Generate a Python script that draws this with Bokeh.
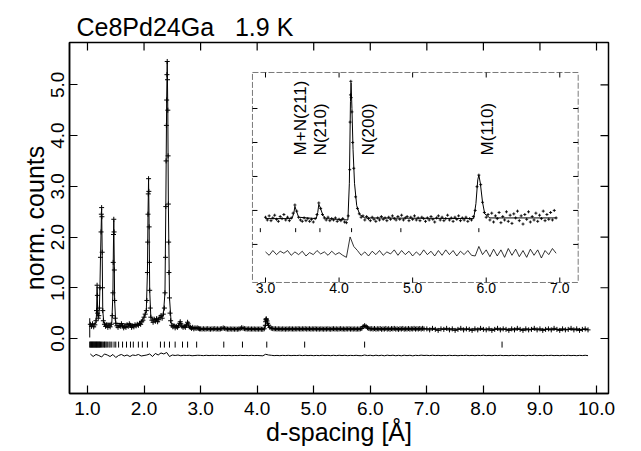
import numpy as np
from bokeh.plotting import figure
from bokeh.models import Range1d, FixedTicker, PrintfTickFormatter
from bokeh.core.properties import value
from bokeh.embed import file_html
from bokeh.resources import INLINE

FONT = "Liberation Sans"

# ---------------- data ----------------
TITLE = "Ce8Pd24Ga\u00a0\u00a0\u00a01.9 K"
X_LABEL = "d-spacing [Å]"
Y_LABEL = "norm. counts"
X_TICKS = [1, 2, 3, 4, 5, 6, 7, 8, 9, 10]
Y_TICKS = [0, 1, 2, 3, 4, 5]
INSET_X_TICKS = [3, 4, 5, 6, 7]
INSET_X_TICK_LABELS = ["3.0", "4.0", "5.0", "6.0", "7.0"]
INSET_Y_TICKS = [0.15, 0.20, 0.25, 0.30, 0.35]

# observed points, low-d region (explicit positions)
obs_low_d = [1.05, 1.07, 1.09, 1.11, 1.13, 1.15, 1.16, 1.17, 1.175, 1.18, 1.19, 1.20, 1.21, 1.22, 1.23,
             1.24, 1.245, 1.25, 1.255, 1.26, 1.265, 1.27, 1.28, 1.30, 1.32, 1.34, 1.36, 1.38, 1.40, 1.42,
             1.44, 1.45, 1.455, 1.46, 1.465, 1.47, 1.475, 1.48, 1.49, 1.50, 1.52, 1.54, 1.56, 1.58, 1.60,
             1.62, 1.64, 1.66, 1.68, 1.70, 1.72, 1.74, 1.76, 1.78, 1.80, 1.82, 1.84, 1.86, 1.88, 1.90,
             1.92, 1.94, 1.96, 1.98, 2.00, 2.02, 2.04, 2.05, 2.06, 2.065, 2.07, 2.075, 2.08, 2.085, 2.09,
             2.095, 2.10, 2.11, 2.12, 2.14, 2.16, 2.18, 2.20, 2.22, 2.24, 2.26, 2.28, 2.30, 2.32, 2.34,
             2.36, 2.37, 2.38, 2.385, 2.39, 2.395, 2.40, 2.405, 2.41, 2.415, 2.42, 2.425, 2.43, 2.435, 2.44,
             2.45, 2.46, 2.47, 2.49, 2.51, 2.53, 2.55, 2.57, 2.59, 2.61, 2.63, 2.64, 2.65, 2.67, 2.69,
             2.71, 2.73, 2.75, 2.77, 2.78, 2.80, 2.82, 2.84, 2.86, 2.88, 2.90, 2.92, 2.94, 2.96, 2.98]
obs_low_y = [0.28, 0.24, 0.29, 0.23, 0.27, 0.35, 0.55, 1.05, 0.85, 0.50, 0.40, 0.45, 0.60, 1.00, 1.60,
             2.10, 2.45, 2.58, 2.40, 1.70, 1.00, 0.55, 0.35, 0.28, 0.24, 0.27, 0.22, 0.26, 0.23, 0.28,
             0.45, 0.90, 1.50, 2.05, 2.35, 2.10, 1.35, 0.75, 0.40, 0.30, 0.25, 0.22, 0.26, 0.24, 0.29,
             0.25, 0.21, 0.24, 0.22, 0.27, 0.24, 0.29, 0.26, 0.22, 0.25, 0.23, 0.27, 0.25, 0.28, 0.26,
             0.30, 0.28, 0.33, 0.36, 0.42, 0.48, 0.55, 0.75, 1.30, 1.90, 2.45, 2.85, 3.15, 2.90, 2.20,
             1.50, 0.95, 0.60, 0.42, 0.36, 0.32, 0.38, 0.34, 0.39, 0.33, 0.37, 0.42, 0.45, 0.40, 0.48,
             0.60, 0.90, 1.60, 2.60, 3.50, 4.20, 4.70, 5.20, 5.46, 5.10, 4.50, 3.60, 2.65, 1.90, 1.30,
             0.80, 0.50, 0.35, 0.26, 0.23, 0.25, 0.21, 0.24, 0.22, 0.25, 0.30, 0.33, 0.29, 0.24, 0.22,
             0.24, 0.22, 0.26, 0.32, 0.29, 0.23, 0.22, 0.20, 0.22, 0.19, 0.21, 0.20, 0.21, 0.20, 0.19]

# observed points, 3.0 - 6.95 A (sampled every 0.025 A, shown in the inset)
obs_mid_start = 3.0
obs_mid_step = 0.025
obs_mid_y = [0.190, 0.186, 0.192, 0.185, 0.189, 0.193, 0.187, 0.184, 0.191, 0.188,
             0.194, 0.186, 0.190, 0.185, 0.189, 0.196, 0.208, 0.199, 0.190, 0.186,
             0.184, 0.189, 0.185, 0.188, 0.184, 0.187, 0.183, 0.188, 0.194, 0.211,
             0.203, 0.194, 0.189, 0.186, 0.190, 0.185, 0.188, 0.186, 0.189, 0.184,
             0.187, 0.185, 0.188, 0.183, 0.182, 0.192, 0.330, 0.345, 0.262, 0.220,
             0.203, 0.195, 0.190, 0.192, 0.186, 0.191, 0.188, 0.185, 0.190, 0.187,
             0.184, 0.189, 0.186, 0.191, 0.187, 0.189, 0.185, 0.190, 0.187, 0.192,
             0.188, 0.186, 0.191, 0.187, 0.193, 0.186, 0.189, 0.191, 0.185, 0.190,
             0.187, 0.192, 0.186, 0.189, 0.185, 0.190, 0.188, 0.184, 0.189, 0.186,
             0.191, 0.187, 0.183, 0.189, 0.192, 0.186, 0.190, 0.185, 0.188, 0.193,
             0.186, 0.189, 0.184, 0.190, 0.187, 0.192, 0.185, 0.189, 0.186, 0.190,
             0.184, 0.188, 0.186, 0.191, 0.200, 0.235, 0.252, 0.238, 0.212, 0.197,
             0.190, 0.194, 0.186, 0.196, 0.183, 0.192, 0.188, 0.197, 0.182, 0.191,
             0.186, 0.198, 0.184, 0.193, 0.181, 0.195, 0.189, 0.199, 0.185, 0.192,
             0.180, 0.194, 0.187, 0.198, 0.183, 0.191, 0.186, 0.196, 0.184, 0.193,
             0.188, 0.199, 0.185, 0.194, 0.187, 0.197, 0.186, 0.200, 0.189]
# extra observed points on the sharp 4.16 A peak
obs_peak_d = [4.145, 4.155, 4.160, 4.165, 4.185]
obs_peak_y = [0.260, 0.370, 0.390, 0.366, 0.300]

# observed points, 7.0 - 9.85 A (every 0.05 A)
obs_high_start = 7.0
obs_high_step = 0.05
obs_high_y = [0.19, 0.17, 0.20, 0.18, 0.16, 0.19, 0.18, 0.20, 0.17, 0.19,
              0.16, 0.18, 0.20, 0.17, 0.19, 0.18, 0.16, 0.19, 0.17, 0.20,
              0.18, 0.17, 0.19, 0.16, 0.18, 0.20, 0.17, 0.19, 0.18, 0.16,
              0.19, 0.17, 0.20, 0.18, 0.16, 0.19, 0.17, 0.18, 0.20, 0.17,
              0.19, 0.16, 0.18, 0.19, 0.17, 0.20, 0.18, 0.16, 0.19, 0.17,
              0.18, 0.20, 0.17, 0.19, 0.16, 0.18, 0.19, 0.17]

# calculated profile
calc_d = [1.05, 1.15, 1.16, 1.17, 1.18, 1.19, 1.20, 1.21, 1.22, 1.23, 1.24, 1.25, 1.26, 1.27, 1.29,
          1.43, 1.45, 1.455, 1.465, 1.475, 1.48, 1.50, 1.90, 2.00, 2.04, 2.06, 2.07, 2.08, 2.09, 2.10,
          2.12, 2.20, 2.34, 2.37, 2.385, 2.40, 2.41, 2.42, 2.43, 2.45, 2.48, 2.60, 2.64, 2.68, 2.77,
          2.80, 3.00, 3.36, 3.385, 3.40, 3.415, 3.45, 3.69, 3.71, 3.725, 3.745, 3.78, 3.82, 4.12, 4.14,
          4.155, 4.163, 4.175, 4.19, 4.21, 4.24, 4.28, 4.35, 5.83, 5.86, 5.885, 5.90, 5.92, 5.95, 5.98,
          6.05, 6.95, 7.50, 9.85]
calc_y = [0.26, 0.30, 0.50, 1.02, 0.55, 0.42, 0.45, 0.60, 1.00, 1.60, 2.10, 2.56, 1.70, 0.55, 0.30,
          0.30, 0.90, 1.50, 2.33, 1.35, 0.75, 0.30, 0.27, 0.42, 0.55, 1.30, 2.45, 3.15, 2.20, 0.95,
          0.42, 0.36, 0.45, 0.90, 2.60, 4.70, 5.46, 4.50, 2.65, 0.80, 0.30, 0.24, 0.31, 0.23, 0.30,
          0.22, 0.188, 0.188, 0.196, 0.206, 0.201, 0.190, 0.188, 0.197, 0.209, 0.204, 0.193, 0.188, 0.186, 0.240,
          0.360, 0.388, 0.350, 0.290, 0.240, 0.207, 0.194, 0.189, 0.188, 0.210, 0.245, 0.252, 0.240, 0.212, 0.195,
          0.189, 0.189, 0.185, 0.178]

# difference (obs - calc), every 0.05 A from 1.05 A
diff_start = 1.05
diff_step = 0.05
diff_y = [0.03, -0.02, 0.02, 0.0, -0.03, 0.03, 0.01, -0.02, 0.02, -0.04,
          0.0, 0.02, -0.01, 0.01, -0.02, 0.01, 0.0, 0.02, -0.01, 0.0,
          0.01, 0.03, -0.02, 0.04, 0.01, 0.05, 0.03, 0.06, -0.02, 0.01,
          0.0, 0.01, -0.005, 0.005, 0.0, 0.005, -0.005, 0.0, 0.005,
          0.002, -0.003, 0.004, -0.002, 0.003, 0.0, 0.004, -0.003, 0.002, -0.002,
          0.003, -0.004, 0.001, -0.002, 0.004, -0.001, 0.002, -0.003, 0.003, -0.002,
          0.001, -0.003, -0.006, 0.024, 0.010, 0.004, -0.003, 0.002, -0.004, 0.003,
          -0.002, 0.004, -0.003, 0.002, -0.001, 0.005, -0.003, 0.004, -0.002, 0.003,
          -0.004, 0.002, -0.003, 0.005, -0.002, 0.003, -0.004, 0.004, -0.003, 0.005,
          -0.002, 0.004, -0.004, 0.003, -0.002, 0.004, -0.003, -0.004, 0.010, -0.002,
          0.005, -0.005, 0.006, -0.004, 0.005, -0.006, 0.007, -0.003, 0.006, -0.005,
          0.004, -0.006, 0.006, -0.003, 0.005, -0.007, 0.004, -0.002, 0.007, 0.0,
          0.004, -0.003, 0.005, -0.002, 0.003, -0.004, 0.002, -0.003, 0.004, -0.002,
          0.003, -0.005, 0.002, -0.001, 0.004, -0.003, 0.002, -0.004, 0.003, -0.002,
          0.005, -0.003, 0.002, -0.004, 0.003, -0.002, 0.004, -0.003, 0.001, -0.004,
          0.003, -0.002, 0.004, -0.003, 0.002, -0.005, 0.003, -0.002, 0.004, -0.003,
          0.002, -0.004, 0.003, -0.001, 0.004, -0.003, 0.002, -0.004, 0.003, -0.002,
          0.004, -0.003, 0.002, -0.004, 0.003, -0.002, 0.004, -0.003]

# Bragg reflection positions
refl_d = [1.04, 1.05, 1.06, 1.07, 1.08, 1.09, 1.10, 1.11, 1.12, 1.13, 1.14, 1.15, 1.16, 1.17, 1.18,
          1.19, 1.20, 1.21, 1.22, 1.23, 1.25, 1.26, 1.28, 1.30, 1.31, 1.33, 1.35, 1.38, 1.40, 1.43,
          1.47, 1.50, 1.55, 1.62, 1.69, 1.76, 1.81, 1.90, 1.97, 2.06, 2.29, 2.36, 2.45, 2.55, 2.68,
          2.77, 2.93, 3.41, 3.74, 4.17, 4.84, 5.90, 8.33]

# first-point error bar
err_d = [1.04]
err_lo = [0.02]
err_hi = [0.40]

# inset peak annotations
peak_labels = ["M+N(211)", "N(210)", "N(200)", "M(110)"]
peak_label_d = [3.475, 3.747, 4.40, 6.016]

# ---------------- layout constants ----------------
W, H = 641, 451
B_LEFT, B_RIGHT, B_TOP, B_BOTTOM = 69, 33, 42, 58
MAIN_X = (0.682, 10.212)
MAIN_Y = (-1.084, 5.834)
INSET_BOX = (3.917, 9.676, 1.104, 5.243)        # inset frame in main data units (l, r, b, t)
INSET_X = (2.823, 7.25)
INSET_Y = (0.094, 0.403)
MAIN_DIFF_OFFSET = -0.335
INSET_DIFF_OFFSET = 0.137
MAIN_REFL_Y = -0.12
INSET_REFL_Y = 0.171
LABEL_Y = 0.281

# ---------------- assemble observed data ----------------
obs_mid_d = np.round(obs_mid_start + obs_mid_step * np.arange(len(obs_mid_y)), 4)
obs_high_d = np.round(obs_high_start + obs_high_step * np.arange(len(obs_high_y)), 4)
diff_d = np.round(diff_start + diff_step * np.arange(len(diff_y)), 4)

obs_d_all = np.concatenate([obs_low_d, obs_mid_d, obs_peak_d, obs_high_d])
obs_y_all = np.concatenate([obs_low_y, obs_mid_y, obs_peak_y, obs_high_y])
diff_y = np.array(diff_y)
calc_d = np.array(calc_d)
calc_y = np.array(calc_y)
refl_d = np.array(refl_d)

# ---------------- figure ----------------
p = figure(width=W, height=H,
           x_range=Range1d(*MAIN_X), y_range=Range1d(*MAIN_Y),
           output_backend="svg", toolbar_location=None,
           min_border_left=B_LEFT, min_border_right=B_RIGHT,
           min_border_top=B_TOP, min_border_bottom=B_BOTTOM,
           title=TITLE)
p.title.text_font = FONT
p.title.text_font_size = "25px"
p.title.text_font_style = "normal"
p.title.text_color = "black"
p.title.offset = 7
p.title.standoff = 4
p.xgrid.visible = False
p.ygrid.visible = False
p.outline_line_color = "black"
p.outline_line_width = 1.5
p.background_fill_color = "white"
p.border_fill_color = "white"

for ax in (p.xaxis[0], p.yaxis[0]):
    ax.major_tick_in = 8
    ax.major_tick_out = 0
    ax.minor_tick_in = 0
    ax.minor_tick_out = 0
    ax.axis_line_width = 1.5
    ax.major_tick_line_width = 1.2
    ax.major_label_text_font = FONT
    ax.major_label_text_font_size = "19px"
    ax.major_label_text_color = "black"
    ax.axis_label_text_font = FONT
    ax.axis_label_text_font_size = "25px"
    ax.axis_label_text_font_style = "normal"
    ax.axis_label_text_color = "black"
    ax.formatter = PrintfTickFormatter(format="%.1f")

p.xaxis.ticker = FixedTicker(ticks=X_TICKS)
p.yaxis.ticker = FixedTicker(ticks=Y_TICKS)
p.xaxis.axis_label = X_LABEL
p.yaxis.axis_label = Y_LABEL
p.xaxis.major_label_standoff = 8
p.xaxis.axis_label_standoff = 0
p.yaxis.major_label_standoff = 5
p.yaxis.axis_label_standoff = 0
p.yaxis.major_label_orientation = "vertical"

# inward ticks on the top and right frame edges
p.ray(x=X_TICKS, y=[MAIN_Y[1]] * len(X_TICKS), length=8, length_units="screen", angle=-np.pi / 2,
      line_color="black", line_width=1.2)
p.ray(x=[MAIN_X[1]] * len(Y_TICKS), y=Y_TICKS, length=8, length_units="screen", angle=np.pi,
      line_color="black", line_width=1.2)

# ---------------- main plot glyphs ----------------
p.line(calc_d, calc_y, line_color="black", line_width=1)
p.scatter(obs_d_all, obs_y_all, marker="cross", size=5, line_color="black", line_width=1)
p.segment(x0=err_d, y0=err_lo, x1=err_d, y1=err_hi, line_color="black", line_width=1)
p.line(diff_d, diff_y + MAIN_DIFF_OFFSET, line_color="black", line_width=1)
p.scatter(refl_d, np.full(len(refl_d), MAIN_REFL_Y), marker="dash", angle=np.pi / 2,
          size=6, line_color="black", line_width=1)

# ---------------- inset (via extra ranges) ----------------
bl, br, bb, bt = INSET_BOX
sx = (INSET_X[1] - INSET_X[0]) / (br - bl)
sy = (INSET_Y[1] - INSET_Y[0]) / (bt - bb)
p.extra_x_ranges = {"ix": Range1d(INSET_X[0] - (bl - MAIN_X[0]) * sx, INSET_X[1] + (MAIN_X[1] - br) * sx)}
p.extra_y_ranges = {"iy": Range1d(INSET_Y[0] - (bb - MAIN_Y[0]) * sy, INSET_Y[1] + (MAIN_Y[1] - bt) * sy)}
IR = dict(x_range_name="ix", y_range_name="iy")

p.quad(left=[INSET_X[0]], right=[INSET_X[1]], bottom=[INSET_Y[0]], top=[INSET_Y[1]],
       fill_color="white", line_color="#7a7a7a", line_width=1, line_dash="6 2", **IR)

m_obs = (obs_d_all >= 2.99) & (obs_d_all <= 6.96)
p.scatter(obs_d_all[m_obs], obs_y_all[m_obs], marker="cross", size=3, line_color="black",
          line_width=0.9, **IR)
m_calc = (calc_d >= 2.99) & (calc_d <= 6.96)
p.line(calc_d[m_calc], calc_y[m_calc], line_color="black", line_width=1, **IR)
m_diff = (diff_d >= 2.99) & (diff_d <= 6.96)
p.line(diff_d[m_diff], diff_y[m_diff] + INSET_DIFF_OFFSET, line_color="black", line_width=0.8, **IR)
m_refl = (refl_d >= INSET_X[0]) & (refl_d <= 6.96)
p.scatter(refl_d[m_refl], np.full(int(m_refl.sum()), INSET_REFL_Y), marker="dash", angle=np.pi / 2,
          size=4, line_color="black", line_width=1, **IR)

# inset ticks
nxt = len(INSET_X_TICKS)
nyt = len(INSET_Y_TICKS)
p.ray(x=INSET_X_TICKS, y=[INSET_Y[0]] * nxt, length=5, length_units="screen", angle=np.pi / 2,
      line_color="black", line_width=1, **IR)
p.ray(x=INSET_X_TICKS, y=[INSET_Y[1]] * nxt, length=5, length_units="screen", angle=-np.pi / 2,
      line_color="black", line_width=1, **IR)
p.ray(x=[INSET_X[0]] * nyt, y=INSET_Y_TICKS, length=5, length_units="screen", angle=0,
      line_color="black", line_width=1, **IR)
p.ray(x=[INSET_X[1]] * nyt, y=INSET_Y_TICKS, length=5, length_units="screen", angle=np.pi,
      line_color="black", line_width=1, **IR)
p.text(x=INSET_X_TICKS, y=[INSET_Y[0]] * nxt, text=INSET_X_TICK_LABELS, y_offset=1,
       text_align="center", text_baseline="top", text_font=value(FONT), text_font_size="14px",
       text_color="black", **IR)

# peak annotations
p.text(x=peak_label_d, y=[LABEL_Y] * len(peak_labels), text=peak_labels, angle=np.pi / 2,
       text_align="left", text_baseline="middle", text_font=value(FONT), text_font_size="17px",
       text_color="black", **IR)

open("out.html", "w").write(file_html(p, INLINE))
